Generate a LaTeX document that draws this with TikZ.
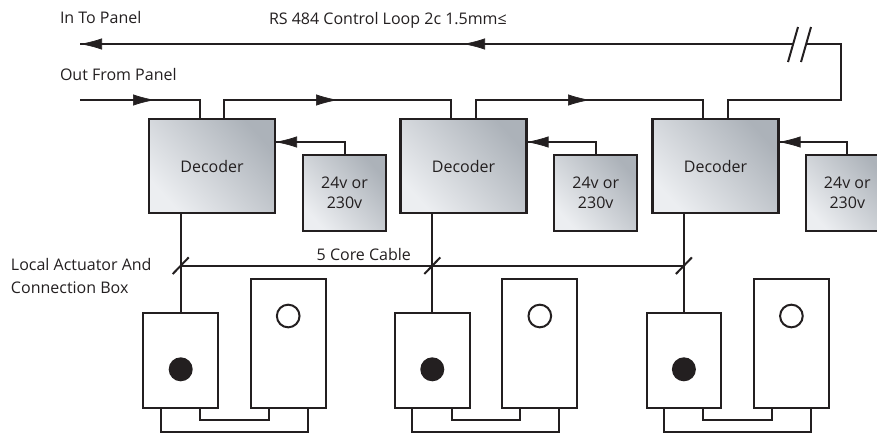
\documentclass[tikz,border=0pt]{standalone}
\usepackage{fontspec}
\setmainfont{Open Sans}
\usetikzlibrary{arrows.meta}

\definecolor{inkline}{RGB}{35,31,32}
\definecolor{shadelight}{RGB}{236,238,241}
\definecolor{shademid}{RGB}{204,208,214}
\definecolor{shadedark}{RGB}{172,178,185}

\tikzset{every picture/.style={line width=1.5pt}}
\tikzset{
	wire/.style={draw=inkline, line width=1.5pt, line join=miter},
	flowtip/.style={draw=inkline, line width=0.5pt, -{Latex[length=16.5pt,width=8.5pt,color=inkline]}},
	shadebox/.style={draw=inkline, line width=1.7pt, outer sep=0pt, inner sep=0pt, align=center, text=inkline,
		left color=shadelight, middle color=shademid, right color=shadedark, shading angle=132},
	decoderbox/.style={shadebox, minimum width=94.5pt, minimum height=70.5pt},
	supplybox/.style={shadebox, minimum width=62.25pt, minimum height=57pt},
	actuatorbox/.style={draw=inkline, line width=1.5pt, outer sep=0pt, minimum width=56pt, minimum height=71.25pt},
	indicatorbox/.style={draw=inkline, line width=1.5pt, outer sep=0pt, minimum width=56pt, minimum height=96.75pt},
	lampon/.style={circle, fill=inkline, inner sep=0pt, minimum size=18pt},
	lampoff/.style={circle, draw=inkline, line width=1.5pt, inner sep=0pt, minimum size=17pt},
	label/.style={anchor=base west, inner sep=0pt, text=inkline, font=\fontsize{12}{16.5}\selectfont}
}

\begin{document}
\begin{tikzpicture}[x=0.75pt,y=0.75pt,yscale=-1,xscale=1]
	\useasboundingbox (0,0) rectangle (877,433);
	
	%Shape: Decoders
	\draw (212,166) node [decoderbox, font=\fontsize{12}{15}\selectfont] (dec1) {Decoder};
	\draw (463.5,166) node [decoderbox, font=\fontsize{12}{15}\selectfont] (dec2) {Decoder};
	\draw (715.5,166) node [decoderbox, font=\fontsize{12}{15}\selectfont] (dec3) {Decoder};
	%Shape: Supplies
	\draw (344.5,193) node [supplybox, font=\fontsize{12}{15}\selectfont] (sup1) {24v or\\230v};
	\draw (595.7,193) node [supplybox, font=\fontsize{12}{15}\selectfont] (sup2) {24v or\\230v};
	\draw (847.3,193) node [supplybox, font=\fontsize{12}{15}\selectfont] (sup3) {24v or\\230v};
	%Shape: Actuator boxes
	\draw (180.7,360.5) node [actuatorbox] (act1) {};
	\draw (432.3,360.5) node [actuatorbox] (act2) {};
	\draw (683.9,360.5) node [actuatorbox] (act3) {};
	\draw (288.2,343.5) node [indicatorbox] (ind1) {};
	\draw (539.8,343.5) node [indicatorbox] (ind2) {};
	\draw (791.4,343.5) node [indicatorbox] (ind3) {};
	%Shape: Circle
	\draw (180.7,369.3) node [lampon] (on1) {};
	\draw (432.3,369.3) node [lampon] (on2) {};
	\draw (683.9,369.3) node [lampon] (on3) {};
	\draw (288.2,316) node [lampoff] (off1) {};
	\draw (539.8,316) node [lampoff] (off2) {};
	\draw (791.4,316) node [lampoff] (off3) {};
	
	%Straight Lines
	\coordinate (inend) at (80,44);
	\coordinate (breakl) at (793,44);
	\coordinate (breakr) at (806,44);
	\coordinate (corner) at (841,44);
	\coordinate (outstart) at (80,100);
	\coordinate (loopin1) at (199.5,100);
	\coordinate (loopout1) at (224,100);
	\coordinate (loopin2) at (451,100);
	\coordinate (loopout2) at (475.7,100);
	\coordinate (loopin3) at (702.7,100);
	\coordinate (loopout3) at (727.7,100);
	\coordinate (cornerb) at (841,100);
	\draw [wire] (breakl) -- (inend);
	\draw [wire] (loopout3 |- dec3.north) -- (loopout3) -- (cornerb) -- (corner) -- (breakr);
	\draw [wire] (outstart) -- (loopin1) -- (loopin1 |- dec1.north);
	\draw [wire] (loopout1 |- dec1.north) -- (loopout1) -- (loopin2) -- (loopin2 |- dec2.north);
	\draw [wire] (loopout2 |- dec2.north) -- (loopout2) -- (loopin3) -- (loopin3 |- dec3.north);
	
	%Straight Lines
	\coordinate (tipa) at (80,44);
	\coordinate (tipb) at (463,44);
	\coordinate (tipc) at (155,100);
	\coordinate (tipd) at (338,100);
	\coordinate (tipe) at (590,100);
	\draw [flowtip] (tipa) ++(22,0) -- (tipa);
	\draw [flowtip] (tipb) ++(22,0) -- (tipb);
	\draw [flowtip] (tipc) ++(-22,0) -- (tipc);
	\draw [flowtip] (tipd) ++(-22,0) -- (tipd);
	\draw [flowtip] (tipe) ++(-22,0) -- (tipe);
	
	%Straight Lines
	\draw [wire] (798,27) -- (788,62);
	\draw [wire] (811,27) -- (801,62);
	
	%Straight Lines
	\coordinate (feed1) at (275,142);
	\coordinate (feed2) at (526.5,142);
	\coordinate (feed3) at (778.5,142);
	\draw [wire] (sup1.north) |- (feed1);
	\draw [wire] (sup2.north) |- (feed2);
	\draw [wire] (sup3.north) |- (feed3);
	\draw [flowtip] (feed1) ++(22,0) -- (feed1);
	\draw [flowtip] (feed2) ++(22,0) -- (feed2);
	\draw [flowtip] (feed3) ++(22,0) -- (feed3);
	
	%Straight Lines
	\draw [wire] (act1.north |- dec1.south) -- (act1.north);
	\draw [wire] (act2.north |- dec2.south) -- (act2.north);
	\draw [wire] (act3.north |- dec3.south) -- (act3.north);
	\coordinate (tap1) at (180.7,265.7);
	\coordinate (tap2) at (432.3,265.7);
	\coordinate (tap3) at (683.9,265.7);
	\draw [wire] (tap1) -- (tap3);
	\draw [wire] (tap1) ++(-8,8.3) -- ++(16,-16.6);
	\draw [wire] (tap2) ++(-8,8.3) -- ++(16,-16.6);
	\draw [wire] (tap3) ++(-8,8.3) -- ++(16,-16.6);
	
	%Straight Lines
	\coordinate (linka1) at (200,420);
	\coordinate (linkb1) at (268.7,420);
	\coordinate (linkc1) at (160.5,431.7);
	\coordinate (linkd1) at (307.5,431.7);
	\coordinate (linka2) at (451.6,420);
	\coordinate (linkb2) at (520.3,420);
	\coordinate (linkc2) at (412.1,431.7);
	\coordinate (linkd2) at (559.1,431.7);
	\coordinate (linka3) at (703.2,420);
	\coordinate (linkb3) at (771.9,420);
	\coordinate (linkc3) at (663.7,431.7);
	\coordinate (linkd3) at (810.7,431.7);
	\draw [wire] (linka1 |- act1.south) -- (linka1) -- (linkb1) -- (linkb1 |- ind1.south);
	\draw [wire] (linkc1 |- act1.south) -- (linkc1) -- (linkd1) -- (linkd1 |- ind1.south);
	\draw [wire] (linka2 |- act2.south) -- (linka2) -- (linkb2) -- (linkb2 |- ind2.south);
	\draw [wire] (linkc2 |- act2.south) -- (linkc2) -- (linkd2) -- (linkd2 |- ind2.south);
	\draw [wire] (linka3 |- act3.south) -- (linka3) -- (linkb3) -- (linkb3 |- ind3.south);
	\draw [wire] (linkc3 |- act3.south) -- (linkc3) -- (linkd3) -- (linkd3 |- ind3.south);
	
	% Text Node
	\draw (59,23) node [label] (intxt) {In To Panel};
	% Text Node
	\draw (59,80) node [label] (outtxt) {Out From Panel};
	% Text Node
	\draw (268,24) node [label] (looptxt) {RS 484 Control Loop 2c 1.5mm≤};
	% Text Node
	\draw (315.7,260) node [label] (cabletxt) {5 Core Cable};
	% Text Node
	\draw (10,270.7) node [label] (localtxt) {Local Actuator And};
	% Text Node
	\draw (10,293) node [label] (conntxt) {Connection Box};
	
\end{tikzpicture}
\end{document}
